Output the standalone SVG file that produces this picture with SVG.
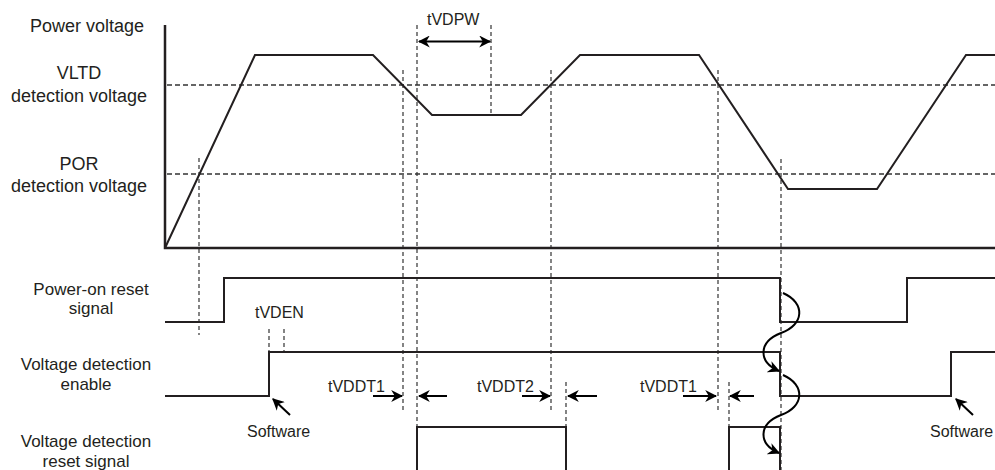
<svg xmlns="http://www.w3.org/2000/svg" width="995" height="470" viewBox="0 0 995 470">
<style>
.lbl{font-family:"Liberation Sans",Arial,sans-serif;font-size:18px;fill:#231f20;text-anchor:middle}
.lbl2{font-family:"Liberation Sans",Arial,sans-serif;font-size:17px;fill:#231f20;text-anchor:middle}
.ann{font-family:"Liberation Sans",Arial,sans-serif;font-size:16px;fill:#231f20}
.sig{fill:none;stroke:#231f20;stroke-width:2}
.axis{fill:none;stroke:#231f20;stroke-width:2.5}
.hd{fill:none;stroke:#333;stroke-width:1.5;stroke-dasharray:5,3}
.vd{fill:none;stroke:#333;stroke-width:1.2;stroke-dasharray:4,3}
.arr{fill:none;stroke:#000;stroke-width:2}
</style>
<defs>
<marker id="ah2" viewBox="0 0 10 10" refX="9" refY="5" markerWidth="12" markerHeight="12" orient="auto-start-reverse" markerUnits="userSpaceOnUse">
<path d="M0,0 L10,5 L0,10 L3,5 z" fill="#000"/>
</marker>
</defs>

<g id="labels">
<text class="lbl" x="87" y="32">Power voltage</text>
<text class="lbl" x="79" y="79">VLTD</text>
<text class="lbl" x="79" y="102">detection voltage</text>
<text class="lbl" x="79" y="170">POR</text>
<text class="lbl" x="79" y="192">detection voltage</text>
<text class="lbl2" x="91" y="295">Power-on reset</text>
<text class="lbl2" x="91" y="314">signal</text>
<text class="lbl2" x="86" y="370">Voltage detection</text>
<text class="lbl2" x="86" y="390">enable</text>
<text class="lbl2" x="86" y="447">Voltage detection</text>
<text class="lbl2" x="86" y="467">reset signal</text>
</g>

<g id="guides">
<line class="hd" x1="167" y1="85" x2="995" y2="85"/>
<line class="hd" x1="167" y1="174" x2="995" y2="174"/>
<line class="vd" x1="199" y1="158" x2="199" y2="335"/>
<line class="vd" x1="403" y1="70" x2="403" y2="411"/>
<line class="vd" x1="417" y1="25" x2="417" y2="427"/>
<line class="vd" x1="491" y1="25" x2="491" y2="115"/>
<line class="vd" x1="551" y1="70" x2="551" y2="411"/>
<line class="vd" x1="566" y1="382" x2="566" y2="427"/>
<line class="vd" x1="718" y1="70" x2="718" y2="411"/>
<line class="vd" x1="729" y1="382" x2="729" y2="427"/>
<line class="vd" x1="781" y1="159" x2="781" y2="470"/>
<line class="vd" x1="269" y1="329" x2="269" y2="352"/>
<line class="vd" x1="284" y1="329" x2="284" y2="352"/>
</g>

<g id="power-voltage">
<path class="axis" d="M165,25 V248 H995"/>
<path class="sig" d="M165,248 L255,55 H373 L432,115 H521 L580,55 H699 L788,189 H877 L966,55 H995"/>
</g>

<g id="power-on-reset">
<path class="sig" d="M165,322 H224 V278 H780 V322 H907 V278 H995"/>
</g>

<g id="voltage-detection-enable">
<path class="sig" d="M165,396 H269 V352 H780 V396 H951 V352 H995"/>
</g>

<g id="voltage-detection-reset">
<path class="sig" d="M417,470 V427 H566 V470"/>
<path class="sig" d="M729,470 V427 H780 V470"/>
</g>

<g id="connectors">
<line class="arr" x1="419" y1="41.5" x2="490" y2="41.5" marker-start="url(#ah2)" marker-end="url(#ah2)"/>
<line class="arr" x1="373" y1="396" x2="402" y2="396" marker-end="url(#ah2)"/>
<line class="arr" x1="447" y1="396" x2="419" y2="396" marker-end="url(#ah2)"/>
<line class="arr" x1="522" y1="396" x2="550" y2="396" marker-end="url(#ah2)"/>
<line class="arr" x1="597" y1="396" x2="568" y2="396" marker-end="url(#ah2)"/>
<line class="arr" x1="683" y1="396" x2="716" y2="396" marker-end="url(#ah2)"/>
<line class="arr" x1="754" y1="396" x2="730" y2="396" marker-end="url(#ah2)"/>
<line class="arr" x1="290" y1="415" x2="273" y2="399" marker-end="url(#ah2)"/>
<line class="arr" x1="973" y1="415" x2="956" y2="399" marker-end="url(#ah2)"/>
<path class="arr" d="M783,293 C806,303 804,325 781,333 C758,342 758,362 779,371" marker-end="url(#ah2)"/>
<path class="arr" d="M783,375 C806,385 804,407 781,415 C758,424 758,444 779,453" marker-end="url(#ah2)"/>
</g>

<g id="annotations">
<text class="ann" x="427" y="25">tVDPW</text>
<text class="ann" x="255" y="318">tVDEN</text>
<text class="ann" x="328" y="392">tVDDT1</text>
<text class="ann" x="477" y="392">tVDDT2</text>
<text class="ann" x="640" y="392">tVDDT1</text>
<text class="ann" x="247" y="437">Software</text>
<text class="ann" x="930" y="437">Software</text>
</g>
</svg>
